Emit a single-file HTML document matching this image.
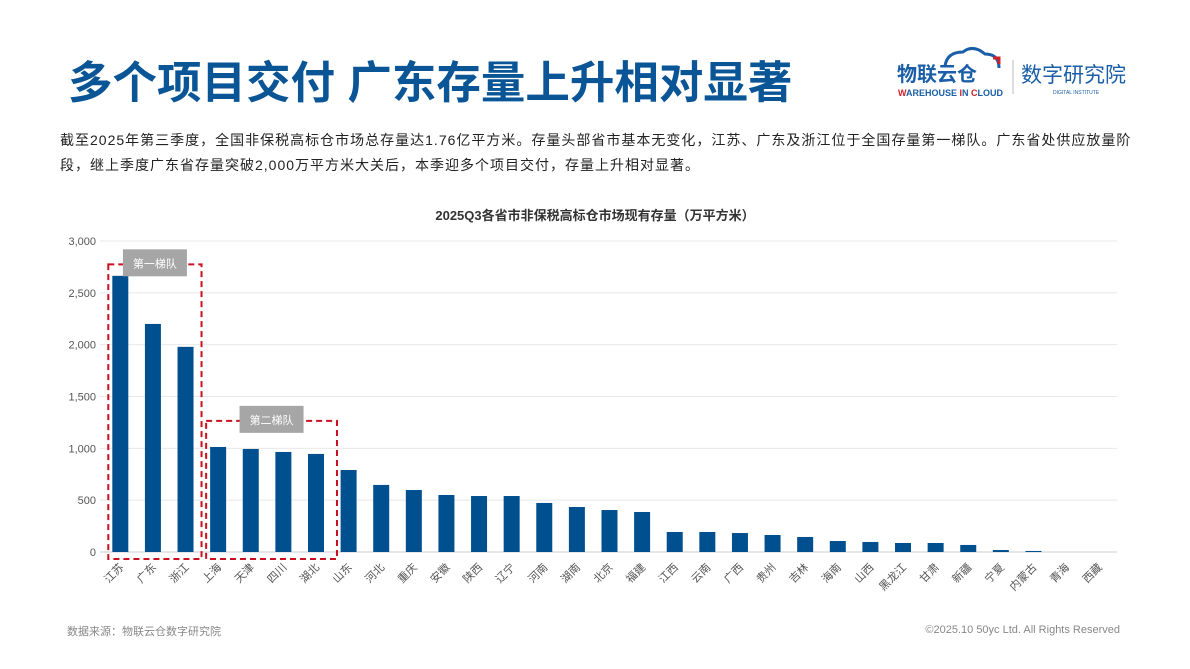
<!DOCTYPE html>
<html><head><meta charset="utf-8">
<style>
body{margin:0;width:1190px;height:669px;background:#fff;overflow:hidden;position:relative;font-family:"Liberation Sans","Noto Sans CJK SC",sans-serif;}
.t{position:absolute;white-space:nowrap;}
</style></head><body>
<div class="t" style="left:68px;top:46px;font-size:44.5px;font-weight:bold;color:#0a5596;">多个项目交付 广东存量上升相对显著</div>
<div style="position:absolute;left:895px;top:44px;width:240px;height:56px;">
<svg width="240" height="56">
<path d="M50 22 q2-14 18-14 q10-8 22 2 q14 0 14 14" fill="none" stroke="#1a5ea8" stroke-width="3"/>
<path d="M98 14 h6 v6" fill="none" stroke="#d0202a" stroke-width="3"/>
<text x="2" y="37" font-size="20" font-weight="bold" fill="#1a5ea8" font-family="Noto Sans CJK SC">物联云仓</text>
<text x="3" y="52" font-size="9" font-weight="bold" fill="#1a5ea8"><tspan fill="#d0202a">W</tspan>AREHOUSE <tspan fill="#d0202a">I</tspan>N <tspan fill="#d0202a">C</tspan>LOUD</text>
<line x1="118" y1="16" x2="118" y2="50" stroke="#bbb"/>
<text x="126" y="38" font-size="21" fill="#1a5ea8" font-family="Noto Sans CJK SC">数字研究院</text>
<text x="158" y="50" font-size="5" fill="#1a5ea8">DIGITAL INSTITUTE</text>
</svg></div>
<div class="t" style="left:60px;top:128px;font-size:14px;letter-spacing:1px;line-height:25px;color:#222;">截至2025年第三季度，全国非保税高标仓市场总存量达1.76亿平方米。存量头部省市基本无变化，江苏、广东及浙江位于全国存量第一梯队。广东省处供应放量阶<br>段，继上季度广东省存量突破2,000万平方米大关后，本季迎多个项目交付，存量上升相对显著。</div>
<div class="t" style="left:0;width:1190px;text-align:center;top:205px;font-size:13px;font-weight:bold;color:#333;">2025Q3各省市非保税高标仓市场现有存量（万平方米）</div>
<svg id="chart" width="1190" height="669" style="position:absolute;left:0;top:0;font-family:'Liberation Sans','Noto Sans CJK SC',sans-serif;"></svg>
<div class="t" style="left:67px;top:623px;font-size:11px;color:#888;">数据来源：物联云仓数字研究院</div>
<div class="t" style="right:70px;top:624px;font-size:11px;color:#888;">©2025.10 50yc Ltd. All Rights Reserved</div>
<script>
const categories=["江苏","广东","浙江","上海","天津","四川","湖北","山东","河北","重庆","安徽","陕西","辽宁","河南","湖南","北京","福建","江西","云南","广西","贵州","吉林","海南","山西","黑龙江","甘肃","新疆","宁夏","内蒙古","青海","西藏"];
const values=[2664,2200,1979,1013,994,965,946,791,647,598,550,540,540,473,434,405,386,193,193,183,164,145,106,97,87,87,68,19,10,0,0];
const yTicks=[0,500,1000,1500,2000,2500,3000];
const yTickLabels=["0","500","1,000","1,500","2,000","2,500","3,000"];
const svg=document.getElementById('chart');const NS='http://www.w3.org/2000/svg';
const x0=104,x1=1115,y0=552,y1=241,yMax=3000;
const step=(x1-x0)/categories.length;
const xc=i=>x0+step*(i+0.5);
const y=v=>y0-(v/yMax)*(y0-y1);
function mk(t,a){const e=document.createElementNS(NS,t);for(const k in a)e.setAttribute(k,a[k]);svg.appendChild(e);return e;}
yTicks.forEach((v,i)=>{
 const l=mk('line',{x1:100,x2:1117,y1:y(v),y2:y(v),stroke:i==0?'#ccc':'#e8e8e8','stroke-width':1});
 
 
 const t=mk('text',{x:96,y:y(v)+4,'text-anchor':'end','font-size':11,fill:'#555'});t.textContent=yTickLabels[i];
 
 
});
categories.forEach((c,i)=>{
 const r=mk('rect',{x:xc(i)-8,y:y(values[i]),width:16,height:y0-y(values[i]),fill:'#00508f'});
 
 
 const t=mk('text',{x:xc(i)+4,y:568,'text-anchor':'end','font-size':11,fill:'#555',transform:`rotate(-45 ${xc(i)+4} 568)`});t.textContent=c;
 
 
});
function tier(a,b,top,label,name,padR){
 const r=mk('rect',{x:xc(a)-12,y:y(top),width:xc(b)-xc(a)+12+padR,height:559-y(top),fill:'none',stroke:'#c8101e','stroke-width':2,'stroke-dasharray':'6,4'});
 
 
 const cx=(xc(a)+xc(b)+padR-12)/2;
 const g=mk('rect',{x:cx-32,y:y(top)-15,width:64,height:27,fill:'#a6a6a6'});
 
 
 const t=mk('text',{x:cx,y:y(top)+3,'text-anchor':'middle','font-size':11,fill:'#fff'});t.textContent=label;
 
 
}
tier(0,2,2775,'第一梯队','tier-one',16);
tier(3,6,1265,'第二梯队','tier-two',21);
</script>
</body></html>
